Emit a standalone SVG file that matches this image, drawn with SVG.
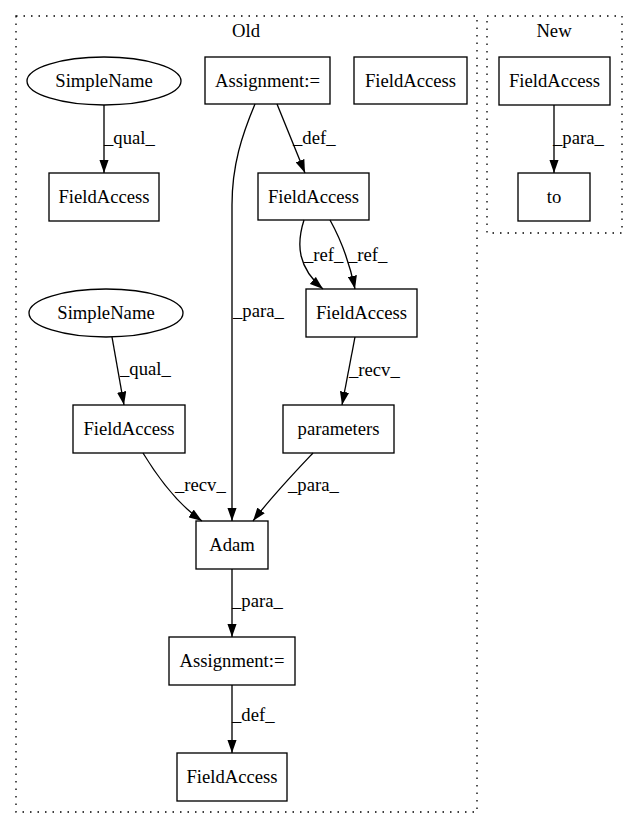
<svg xmlns="http://www.w3.org/2000/svg" width="637" height="828" viewBox="0 0 637 828" font-family="'Liberation Serif', 'Times New Roman', Times, serif">
<style>
text{font-family:'Liberation Serif','Times New Roman',Times,serif;font-size:18.67px;fill:#000}
.n{text-anchor:middle}
.box{fill:none;stroke:#000;stroke-width:1.33}
.cl{fill:none;stroke:#000;stroke-width:1.33;stroke-dasharray:1.5,6}
.e{fill:none;stroke:#000;stroke-width:1.33}
</style>
<defs>
<marker id="a" viewBox="0 0 10 7" markerWidth="13.3" markerHeight="9.3" markerUnits="userSpaceOnUse" refX="10" refY="3.5" orient="auto">
<path d="M0,0 L10,3.5 L0,7 z" fill="#000"/>
</marker>
</defs>
<rect width="637" height="828" fill="#fff"/>
<g id="cluster_old">
<rect class="cl" x="16" y="16" width="461" height="796"/>
<text class="n" x="246" y="37">Old</text>
</g>
<g id="cluster_new">
<rect class="cl" x="487" y="16" width="135" height="217"/>
<text class="n" x="554" y="37">New</text>
</g>
<g id="connectors">
<path class="e" marker-end="url(#a)" d="M104,105 L104,173"/>
<text x="104" y="144">_qual_</text>
<path class="e" marker-end="url(#a)" d="M277,104 L305,173"/>
<text x="293" y="144">_def_</text>
<path class="e" marker-end="url(#a)" d="M255,104 C242,135 232,165 232,205 L232,521"/>
<text x="233" y="317">_para_</text>
<path class="e" marker-end="url(#a)" d="M304,220 C296,245 298,268 323,289"/>
<text x="304" y="261">_ref_</text>
<path class="e" marker-end="url(#a)" d="M330,220 C340,238 349,260 355,289"/>
<text x="348" y="261">_ref_</text>
<path class="e" marker-end="url(#a)" d="M355,337 L342,405"/>
<text x="349" y="376">_recv_</text>
<path class="e" marker-end="url(#a)" d="M112,337 L124,405"/>
<text x="120" y="375">_qual_</text>
<path class="e" marker-end="url(#a)" d="M143,453 C157,476 176,503 202,521"/>
<text x="175" y="491">_recv_</text>
<path class="e" marker-end="url(#a)" d="M313,453 C295,472 272,496 253,521"/>
<text x="288" y="491">_para_</text>
<path class="e" marker-end="url(#a)" d="M232,569 L232,637"/>
<text x="232" y="607">_para_</text>
<path class="e" marker-end="url(#a)" d="M232,685 L232,753"/>
<text x="232" y="721">_def_</text>
<path class="e" marker-end="url(#a)" d="M554,105 L554,173"/>
<text x="553" y="144">_para_</text>
</g>
<g id="simplename1">
<ellipse class="box" cx="104" cy="81" rx="77" ry="24"/>
<text class="n" x="104" y="87">SimpleName</text>
</g>
<g id="fieldaccess1">
<rect class="box" x="49" y="173" width="110" height="48"/>
<text class="n" x="104" y="203">FieldAccess</text>
</g>
<g id="assignment1">
<rect class="box" x="205" y="57" width="125" height="47"/>
<text class="n" x="267.5" y="87">Assignment:=</text>
</g>
<g id="fieldaccess2">
<rect class="box" x="354" y="57" width="113" height="47"/>
<text class="n" x="410.5" y="87">FieldAccess</text>
</g>
<g id="fieldaccess3">
<rect class="box" x="258" y="173" width="111" height="47"/>
<text class="n" x="313.5" y="203">FieldAccess</text>
</g>
<g id="fieldaccess4">
<rect class="box" x="306" y="289" width="111" height="48"/>
<text class="n" x="361.5" y="319">FieldAccess</text>
</g>
<g id="simplename2">
<ellipse class="box" cx="106" cy="313" rx="77" ry="24"/>
<text class="n" x="106" y="319">SimpleName</text>
</g>
<g id="fieldaccess5">
<rect class="box" x="73" y="405" width="112" height="48"/>
<text class="n" x="129" y="435">FieldAccess</text>
</g>
<g id="parameters">
<rect class="box" x="283" y="405" width="111" height="48"/>
<text class="n" x="338.5" y="435">parameters</text>
</g>
<g id="adam">
<rect class="box" x="196" y="521" width="72" height="48"/>
<text class="n" x="232" y="551">Adam</text>
</g>
<g id="assignment2">
<rect class="box" x="169" y="637" width="126" height="48"/>
<text class="n" x="232" y="667">Assignment:=</text>
</g>
<g id="fieldaccess6">
<rect class="box" x="177" y="753" width="110" height="48"/>
<text class="n" x="232" y="783">FieldAccess</text>
</g>
<g id="fieldaccess_new">
<rect class="box" x="499" y="57" width="111" height="48"/>
<text class="n" x="554.5" y="87">FieldAccess</text>
</g>
<g id="to">
<rect class="box" x="518" y="173" width="72" height="48"/>
<text class="n" x="554" y="203">to</text>
</g>
</svg>
